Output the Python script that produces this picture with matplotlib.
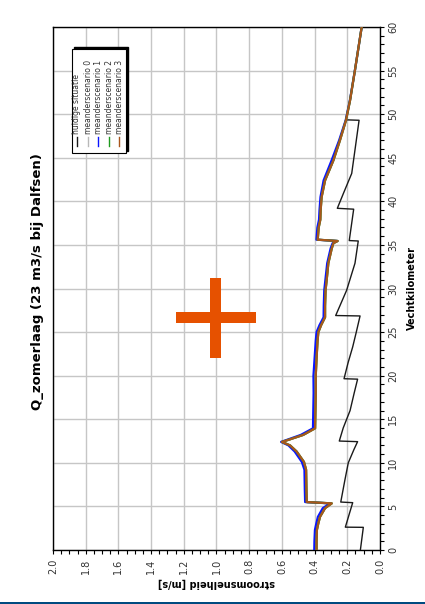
import matplotlib
matplotlib.use('Agg')
import matplotlib.pyplot as plt
import matplotlib.ticker as ticker
from matplotlib.patches import Rectangle

plt.rcParams.update({'font.family': 'DejaVu Sans'})

# Vecht, zomerlaag afvoer: stroomsnelheid (m/s) langs de rivier (km)
km_huidig = [0, 2.6, 2.62, 4.0, 5.43, 5.5, 8.0, 10.0, 11.5, 12.43, 12.5, 14.0, 16.0, 18.0,
             19.6, 19.65, 21.5, 23.3, 25.0, 26.85, 26.9, 29.8, 32.9, 35.45, 35.5, 39.1,
             39.2, 40.9, 43.2, 45.9, 49.3, 49.35, 51.6, 55.07, 60]
v_huidig = [0.12, 0.102, 0.212, 0.19, 0.167, 0.24, 0.215, 0.194, 0.16, 0.137, 0.249, 0.225,
            0.183, 0.158, 0.137, 0.22, 0.195, 0.167, 0.145, 0.122, 0.271, 0.204, 0.153,
            0.133, 0.188, 0.161, 0.261, 0.224, 0.173, 0.153, 0.128, 0.208, 0.183, 0.153, 0.112]

km_meander = [0, 1, 2.3, 3, 3.8, 4.8, 5.35, 5.5, 7, 9.2, 10.1, 11.3, 12.0, 12.4, 12.7, 13.2,
              13.96, 16, 18, 20, 22, 24, 25, 25.8, 26.7, 28, 29.8, 31, 32.9, 34.6, 35.2,
              35.45, 35.6, 37, 37.9, 39, 40.5, 42.4, 44.7, 47, 49.3, 51.6, 55.07, 60]
v_meander3 = [0.388, 0.388, 0.386, 0.378, 0.367, 0.336, 0.295, 0.448, 0.45, 0.452, 0.465,
              0.51, 0.55, 0.60, 0.55, 0.47, 0.397, 0.395, 0.393, 0.393, 0.388, 0.382, 0.377,
              0.36, 0.336, 0.336, 0.333, 0.326, 0.316, 0.295, 0.285, 0.259, 0.381, 0.375,
              0.365, 0.363, 0.357, 0.336, 0.285, 0.245, 0.208, 0.183, 0.153, 0.112]
v_meander1 = [0.402, 0.401, 0.398, 0.39, 0.38, 0.35, 0.305, 0.458, 0.46, 0.462, 0.478,
              0.522, 0.56, 0.605, 0.56, 0.485, 0.41, 0.408, 0.406, 0.407, 0.4, 0.393, 0.388,
              0.37, 0.345, 0.344, 0.341, 0.334, 0.323, 0.302, 0.29, 0.262, 0.389, 0.383,
              0.373, 0.37, 0.364, 0.345, 0.296, 0.25, 0.21, 0.184, 0.153, 0.112]
# scenario 0 en 2 vallen samen met scenario 3
v_meander0 = list(v_meander3)
v_meander2 = list(v_meander3)

labels = ['huidige situatie', 'meanderscenario 0', 'meanderscenario 1',
          'meanderscenario 2', 'meanderscenario 3']
colors = ['#1a1a1a', '#b8b8b8', '#0a14ff', '#1f9a1f', '#a8561c']

W, H = 425, 604
fig = plt.figure(figsize=(W / 100, H / 100), dpi=100)
ax = fig.add_axes([53 / W, 54 / H, 327 / W, 523 / H])

series = [(km_huidig, v_huidig, 1.0), (km_meander, v_meander0, 1.6),
          (km_meander, v_meander1, 1.6), (km_meander, v_meander2, 1.6),
          (km_meander, v_meander3, 1.6)]
for (km, v, lw), c in zip(series, colors):
    ax.plot(v, km, color=c, linewidth=lw, zorder=3)

ax.set_xlim(2.0, 0.0)
ax.set_ylim(0, 60)
ax.xaxis.set_major_locator(ticker.MultipleLocator(0.2))
ax.xaxis.set_minor_locator(ticker.MultipleLocator(0.05))
ax.xaxis.set_major_formatter(ticker.FormatStrFormatter('%.1f'))
ax.yaxis.set_major_locator(ticker.MultipleLocator(5))
ax.yaxis.set_minor_locator(ticker.MultipleLocator(1))
ax.yaxis.tick_right()
ax.yaxis.set_label_position('right')
ax.tick_params(which='both', direction='out', length=3, width=0.8, labelsize=7,
               labelcolor='#333333', pad=3)
ax.tick_params(axis='x', labelrotation=90)
ax.tick_params(axis='y', labelrotation=90)
for lab in ax.get_yticklabels():
    lab.set_verticalalignment('center')
ax.grid(True, which='major', color='#c6c6c6', linewidth=1.0, zorder=0)
for s in ax.spines.values():
    s.set_linewidth(1.0)

ax.set_xlabel('stroomsnelheid [m/s]', rotation=180, fontsize=7, fontweight='bold', labelpad=3)
ax.set_ylabel('Vechtkilometer', rotation=90, fontsize=7, fontweight='bold', labelpad=6)
fig.text(38 / W, 1 - 282 / H, 'Q_zomerlaag (23 m3/s bij Dalfsen)', rotation=90,
         fontsize=9.5, fontweight='bold', ha='center', va='center')

# legenda, gedraaid meegetekend
lx0, lx1 = (71.7 - 53) / 327, (126 - 53) / 327
ly0, ly1 = (550 - 153) / 523, (550 - 49) / 523
dx, dy = 1.8 / 327, 1.8 / 523
ax.add_patch(Rectangle((lx0 + dx, ly0 + dy), lx1 - lx0, ly1 - ly0, transform=ax.transAxes,
                       facecolor='black', edgecolor='black', zorder=5))
ax.add_patch(Rectangle((lx0, ly0), lx1 - lx0, ly1 - ly0, transform=ax.transAxes,
                       facecolor='white', edgecolor='black', linewidth=0.8, zorder=6))
entry_x = [76.7, 88.3, 98.3, 109, 119]
for px, lab, c in zip(entry_x, labels, colors):
    fx = (px - 53) / 327
    ax.plot([fx, fx], [(550 - 146) / 523, (550 - 137) / 523], transform=ax.transAxes,
            color=c, linewidth=1.0, zorder=7, clip_on=False)
    ax.text(fx, (550 - 134) / 523, lab, transform=ax.transAxes, rotation=90,
            ha='center', va='bottom', fontsize=5.5, color='#333333', zorder=7)

# oranje kruis
orange = '#e65100'
fig.patches.append(Rectangle((210 / W, 1 - 358 / H), 11 / W, 80 / H,
                             transform=fig.transFigure, facecolor=orange, zorder=10))
fig.patches.append(Rectangle((175.7 / W, 1 - 323.3 / H), 80 / W, 11 / H,
                             transform=fig.transFigure, facecolor=orange, zorder=10))
# blauwe balk onderaan
fig.patches.append(Rectangle((0, 0), 1, 2.2 / H, transform=fig.transFigure,
                             facecolor='#004b80', zorder=10))

plt.savefig('out.png', dpi=100)
